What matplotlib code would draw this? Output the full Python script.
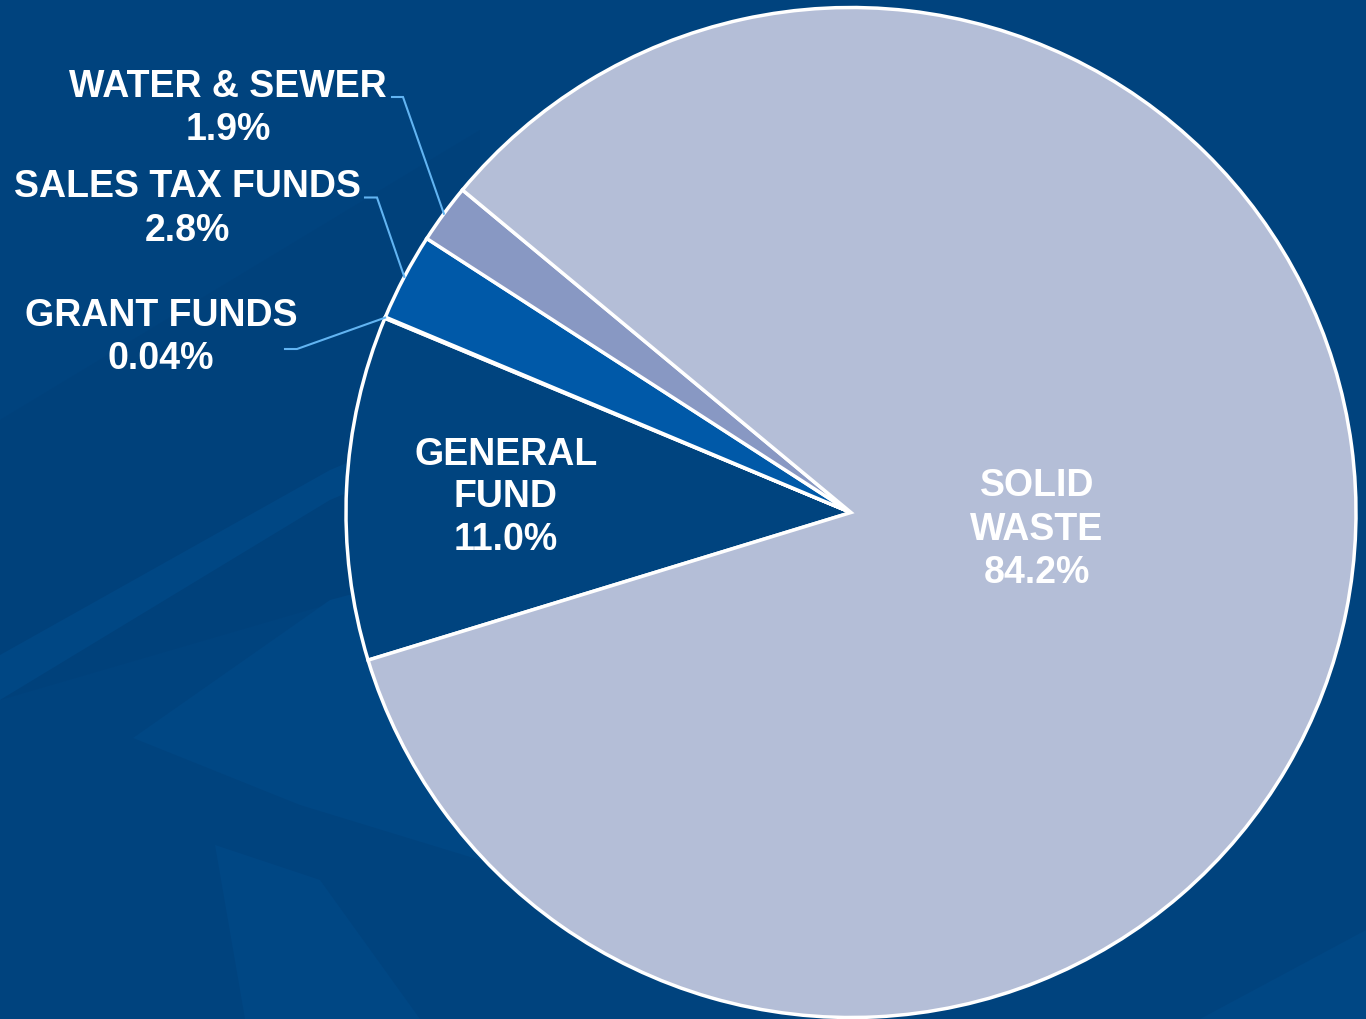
import numpy as np
import matplotlib
matplotlib.use("Agg")
import matplotlib.pyplot as plt
from matplotlib.patches import Polygon

# Fund shares (percent), listed clockwise from the lower-left edge of the pie
funds = ["GENERAL FUND", "GRANT FUNDS", "SALES TAX FUNDS", "WATER & SEWER", "SOLID WASTE"]
shares = [11.0, 0.04, 2.8, 1.9, 84.2]
colors = ["#00447f", "#00447f", "#0059a8", "#8898c3", "#b4bed7"]

W, H = 1366, 1019
BG = "#00437e"


def fmt(v):
    return f"{v:.2f}%" if v < 0.1 else f"{v:.1f}%"


def Y(y):
    # pixel row measured from the top -> data y measured from the bottom
    return H - y


fig = plt.figure(figsize=(W / 100, H / 100), dpi=100)
fig.patch.set_facecolor(BG)
ax = fig.add_axes([0, 0, 1, 1])
ax.set_facecolor(BG)

# faint decorative shapes in the backdrop
light = "#004784"
shapes = [
    ([(0, 420), (480, 130), (480, 560), (0, 700)], "#00417b"),
    ([(0, 700), (0, 655), (330, 470), (520, 390), (520, 420), (330, 500)], light),
    ([(133, 738), (330, 600), (480, 560), (480, 860), (300, 805)], light),
    ([(215, 845), (320, 880), (420, 1019), (245, 1019)], light),
    ([(1200, 1019), (1366, 930), (1366, 1019)], light),
]
for pts, c in shapes:
    ax.add_patch(Polygon([(x, Y(y)) for x, y in pts], closed=True,
                         facecolor=c, edgecolor="none", zorder=0))

cx, cy, r = 851, Y(512.5), 505
wedges, _ = ax.pie(
    shares,
    colors=colors,
    startangle=197,
    counterclock=False,
    center=(cx, cy),
    radius=r,
    wedgeprops=dict(edgecolor="white", linewidth=2.5, joinstyle="miter"),
)
for w in wedges:
    w.set_zorder(2)

ax.set_xlim(0, W)
ax.set_ylim(0, H)
ax.set_aspect("equal")
ax.axis("off")

font = dict(family="Liberation Sans", weight="bold", size=27, color="white",
            ha="center", va="baseline", zorder=5)


def label(x, baselines, lines):
    for b, t in zip(baselines, lines):
        ax.text(x, Y(b), t, **font)


# labels inside the two large slices
label(506, [465, 507, 550], ["GENERAL", "FUND", fmt(shares[0])])
label(1037, [496, 540, 583], ["SOLID", "WASTE", fmt(shares[4])])

# labels outside the small slices, with elbow leaders to the slice edge
outside = [
    (1, 161, [326, 369], (285, 297, 349)),
    (2, 187, [197, 241], (365, 377, 197.5)),
    (3, 228, [97, 140], (392, 403, 97)),
]
for i, x, bl, (x0, x1, ly) in outside:
    label(x, bl, [funds[i], fmt(shares[i])])
    mid = np.deg2rad((wedges[i].theta1 + wedges[i].theta2) / 2)
    ex, ey = cx + r * np.cos(mid), cy + r * np.sin(mid)
    ax.plot([x0, x1, ex], [Y(ly), Y(ly), ey], color="#62b4f2", lw=1.5,
            solid_joinstyle="miter", zorder=3)

fig.savefig("out.png", dpi=100, facecolor=BG)
